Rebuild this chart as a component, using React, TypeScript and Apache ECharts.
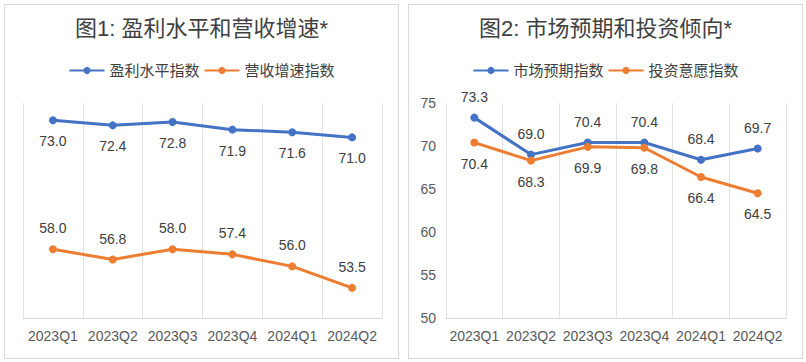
import React, { useEffect, useRef } from "react";
import * as echarts from "echarts";

const categories = ["2023Q1", "2023Q2", "2023Q3", "2023Q4", "2024Q1", "2024Q2"];

const title1 = "图1: 盈利水平和营收增速*";
const profitName = "盈利水平指数";
const profitValues = [73.0, 72.4, 72.8, 71.9, 71.6, 71.0];
const revenueName = "营收增速指数";
const revenueValues = [58.0, 56.8, 58.0, 57.4, 56.0, 53.5];

const title2 = "图2: 市场预期和投资倾向*";
const marketName = "市场预期指数";
const marketValues = [73.3, 69.0, 70.4, 70.4, 68.4, 69.7];
const investName = "投资意愿指数";
const investValues = [70.4, 68.3, 69.9, 69.8, 66.4, 64.5];

const yMin = 50;
const yMax = 75;
const yInterval = 5;

const BLUE = "#4472C4";
const ORANGE = "#ED7D31";
const FONT = "'Liberation Sans', 'Noto Sans CJK SC', sans-serif";

type S = { name: string; data: number[]; color: string; labelPos: "top" | "bottom" };

function buildOption(title: string, series: S[], showY: boolean, gridLeft: number) {
  return {
    animation: false,
    title: {
      text: title,
      left: "center",
      top: 7,
      textStyle: { fontSize: 22, fontWeight: "normal", color: "#404040", fontFamily: FONT },
    },
    legend: {
      top: 53,
      left: "center",
      itemWidth: 35,
      itemHeight: 9,
      itemGap: 4,
      textStyle: { fontSize: 15, color: "#404040", fontFamily: FONT },
      data: series.map((s) => s.name),
    },
    grid: { left: gridLeft, right: 16, top: 98, bottom: 40 },
    xAxis: {
      type: "category",
      data: categories,
      boundaryGap: true,
      axisLine: { show: true, lineStyle: { color: "#d9d9d9" } },
      axisTick: { show: false, interval: 0 },
      splitLine: { show: true, interval: 0, lineStyle: { color: "#e3e3e3" } },
      axisLabel: { interval: 0, fontSize: 14, color: "#595959", margin: 11, fontFamily: FONT },
    },
    yAxis: {
      type: "value",
      min: yMin,
      max: yMax,
      interval: yInterval,
      show: showY,
      axisLine: { show: false },
      axisTick: { show: false },
      splitLine: { show: false },
      axisLabel: { show: showY, fontSize: 14, color: "#595959", margin: 10, fontFamily: FONT },
    },
    series: series.map((s) => ({
      name: s.name,
      type: "line",
      data: s.data,
      symbol: "circle",
      symbolSize: 8,
      itemStyle: { color: s.color },
      lineStyle: { color: s.color, width: 3 },
      label: {
        show: true,
        position: s.labelPos,
        distance: 10,
        fontSize: 14,
        color: "#404040",
        fontFamily: FONT,
        formatter: (p: any) => Number(p.value).toFixed(1),
      },
    })),
  };
}

function Chart({ option, style }: { option: any; style: React.CSSProperties }) {
  const ref = useRef<HTMLDivElement>(null);
  useEffect(() => {
    if (!ref.current) return;
    const c = echarts.init(ref.current, null, { renderer: "svg" });
    c.setOption(option);
    return () => c.dispose();
  }, []);
  return (
    <div style={{ position: "absolute", border: "1px solid #d9d9d9", background: "#fff", ...style }}>
      <div ref={ref} style={{ width: "100%", height: "100%" }} />
    </div>
  );
}

export default function App() {
  const opt1 = buildOption(
    title1,
    [
      { name: profitName, data: profitValues, color: BLUE, labelPos: "bottom" },
      { name: revenueName, data: revenueValues, color: ORANGE, labelPos: "top" },
    ],
    false,
    18
  );
  const opt2 = buildOption(
    title2,
    [
      { name: marketName, data: marketValues, color: BLUE, labelPos: "top" },
      { name: investName, data: investValues, color: ORANGE, labelPos: "bottom" },
    ],
    true,
    37
  );
  return (
    <div style={{ position: "absolute", left: 0, top: 0, width: 806, height: 362, background: "#fff" }}>
      <Chart option={opt1} style={{ left: 4, top: 4, width: 393, height: 353 }} />
      <Chart option={opt2} style={{ left: 408, top: 4, width: 393, height: 353 }} />
    </div>
  );
}
